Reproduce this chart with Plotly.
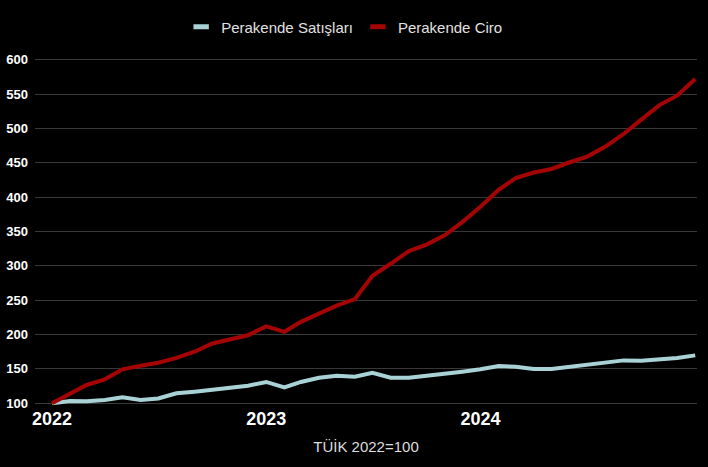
import pandas as pd
import plotly.graph_objects as go

months = pd.date_range("2022-01-01", periods=37, freq="MS")

satis = [100, 103.3, 103, 104.8, 108.7, 104.8, 107, 114.5, 116.9, 119.8, 121.8, 125.6,
         131, 123.2, 131, 137, 140, 138.6, 144.4, 137.2, 137.2, 140, 142, 145.9,
         149.4, 154.3, 153, 149.8, 149.8, 153, 156, 158.5, 162.4, 162, 164.3, 165.8, 169.7]

ciro = [100, 114.5, 126.6, 134.8, 149.4, 154.6, 159, 166, 175, 187, 193.8, 199,
        212, 204, 218.5, 230, 242, 251.5, 285.5, 303, 321.6, 331, 344.4, 363.7,
        386, 410.7, 427.6, 435.9, 441, 450.8, 459, 473.6, 492, 512.8, 534, 547.7, 572]

series_names = ["Perakende Satışları", "Perakende Ciro"]
series_colors = ["#a9d2d6", "#a50404"]

tick_vals = ["2022-01-01", "2023-01-01", "2024-01-01"]
tick_text = ["2022", "2023", "2024"]
y_ticks = [100, 150, 200, 250, 300, 350, 400, 450, 500, 550, 600]

FONT = "Liberation Sans, Arial, sans-serif"

fig = go.Figure()
for vals, name, col in zip([satis, ciro], series_names, series_colors):
    fig.add_trace(go.Scatter(x=months, y=vals, mode="lines", name=name, showlegend=False,
                             line=dict(color=col, width=4)))
# legend entries with short thick bar symbols
for name, col in zip(series_names, series_colors):
    fig.add_trace(go.Scatter(x=[None], y=[None], mode="markers", name=name,
                             marker=dict(symbol="line-ew", size=11, color=col,
                                         line=dict(color=col, width=5))))

fig.update_layout(
    width=708, height=467,
    paper_bgcolor="#000000", plot_bgcolor="#000000",
    margin=dict(l=35, r=11, t=56, b=61),
    font=dict(family=FONT, color="#e0e0e0"),
    showlegend=True,
    legend=dict(orientation="h", x=0.467, xanchor="center", y=1.083, yanchor="middle",
                font=dict(size=15, color="#e0e0e0", family=FONT), bgcolor="rgba(0,0,0,0)",
                itemwidth=30, tracegroupgap=0),
    xaxis=dict(type="date", range=["2021-12-03", "2025-01-04"], automargin=False,
               tickvals=tick_vals, ticktext=tick_text,
               tickfont=dict(size=18, color="#ffffff", family=FONT, weight="bold"),
               showgrid=False, zeroline=False, showline=False, ticks="",
               title=dict(text="TÜİK 2022=100", font=dict(size=15, color="#dddddd", family=FONT),
                          standoff=13)),
    yaxis=dict(range=[96, 604], tickvals=y_ticks, automargin=False,
               tickfont=dict(size=13, color="#ffffff", family=FONT, weight="bold"),
               showgrid=True, gridcolor="#383838", gridwidth=1,
               zeroline=False, showline=False, ticks="", ticklabelstandoff=6),
)

fig.write_html("out.html", config={"displayModeBar": False},
               post_script="document.body.style.margin='0';document.body.style.background='#000';")
